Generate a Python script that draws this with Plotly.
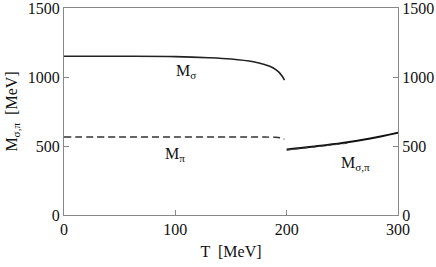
import plotly.graph_objects as go

# Data
T_sigma = [0, 50, 100, 130, 150, 170, 180, 188, 193, 196, 198]
M_sigma = [1150, 1150, 1148, 1140, 1130, 1110, 1090, 1065, 1035, 1005, 978]

T_pi = [0, 50, 100, 150, 180, 190, 195, 198]
M_pi = [565, 565, 565, 565, 565, 563, 558, 550]

T_sp = [200, 225, 250, 275, 300]
M_sp = [475, 497, 522, 555, 597]

T_sp_dash = [200, 220, 240, 255]
M_sp_dash = [470, 487, 505, 520]

labels_text = ["M<sub>σ</sub>", "M<sub>π</sub>", "M<sub>σ,π</sub>"]
labels_x = [110, 100, 262]
labels_y = [1040, 435, 375]

FONT = "Liberation Serif, Times New Roman, serif"
fig = go.Figure()
fig.add_trace(go.Scatter(x=T_sigma, y=M_sigma, mode="lines",
                         line=dict(color="#222", width=1.6, shape="spline"), showlegend=False))
fig.add_trace(go.Scatter(x=T_pi, y=M_pi, mode="lines",
                         line=dict(color="#333", width=1.4, dash="7px,4px", shape="spline"), showlegend=False))
fig.add_trace(go.Scatter(x=T_sp, y=M_sp, mode="lines",
                         line=dict(color="#111", width=2, shape="spline"), showlegend=False))
fig.add_trace(go.Scatter(x=T_sp_dash, y=M_sp_dash, mode="lines",
                         line=dict(color="#444", width=1, dash="5px,3px"), showlegend=False))
fig.add_trace(go.Scatter(x=[0, 300], y=[0, 1500], yaxis="y2", mode="markers",
                         marker=dict(opacity=0), showlegend=False, hoverinfo="skip"))

for t, x, y in zip(labels_text, labels_x, labels_y):
    fig.add_annotation(x=x, y=y, text=t, showarrow=False,
                       font=dict(family=FONT, size=16, color="#111"))

axis_common = dict(showgrid=False, zeroline=False, showline=True, linecolor="#888",
                   linewidth=1, ticks="inside", ticklen=5, tickcolor="#888", automargin=False,
                   ticklabeloverflow="allow",
                   tickfont=dict(family=FONT, size=16, color="#111"))

fig.update_layout(
    width=436, height=267,
    margin=dict(l=64, r=38, t=8, b=52),
    plot_bgcolor="white", paper_bgcolor="white",
    font=dict(family=FONT),
    xaxis=dict(range=[0, 300], tickvals=[0, 100, 200, 300], mirror=True,
               title=dict(text="T  [MeV]", font=dict(family=FONT, size=16, color="#111"), standoff=8),
               **axis_common),
    yaxis=dict(range=[0, 1500], tickvals=[0, 500, 1000, 1500],
               title=dict(text="M<sub>σ,π</sub>  [MeV]", font=dict(family=FONT, size=16, color="#111"), standoff=6),
               **axis_common),
    yaxis2=dict(range=[0, 1500], tickvals=[0, 500, 1000, 1500], overlaying="y", side="right",
                **axis_common),
)

fig.write_html("out.html", config={"displayModeBar": False},
               post_script="document.body.style.margin='0';")
